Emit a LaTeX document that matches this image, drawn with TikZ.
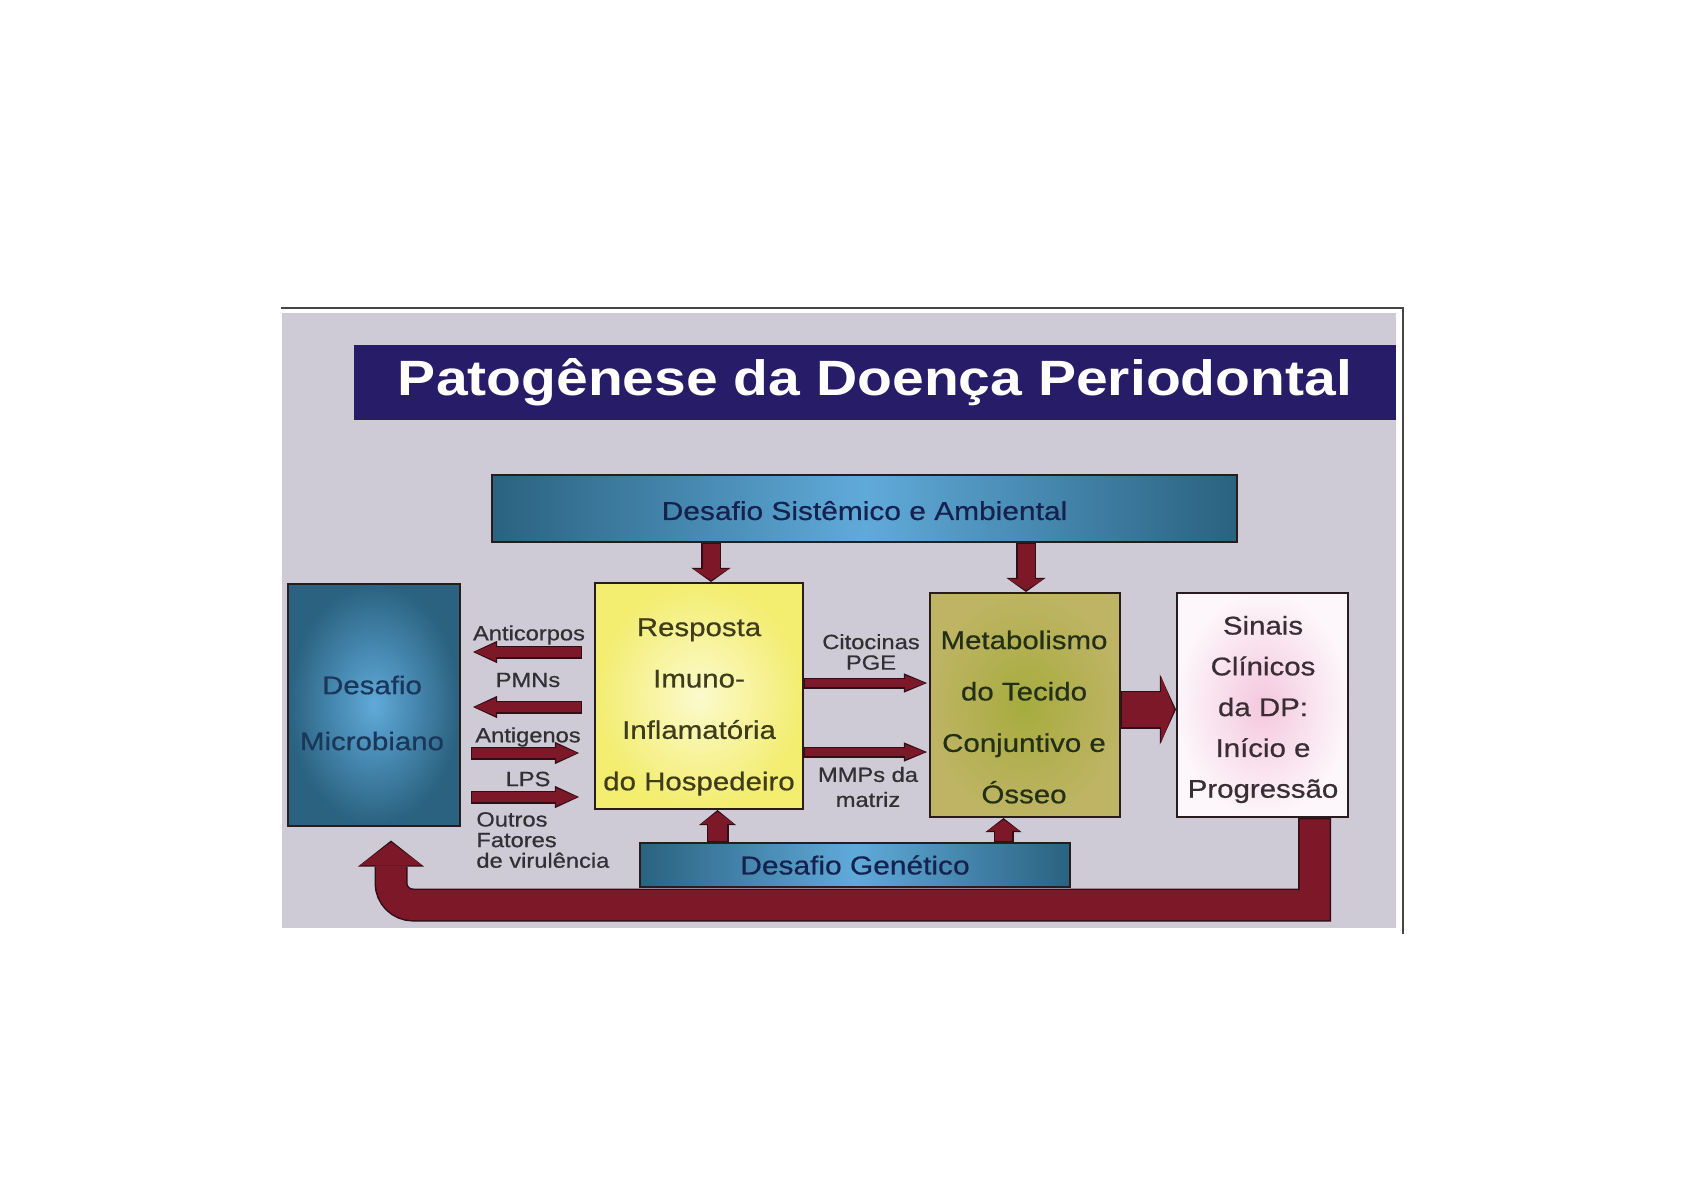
\documentclass[tikz,border=0pt]{standalone}
\usepackage{fontspec}
\setmainfont[FakeStretch=1.15]{Liberation Sans}
\newfontfamily\medfont[FakeStretch=1.15,FakeBold=0.6]{Liberation Sans}
\usetikzlibrary{arrows.meta,calc}

\definecolor{bgc}{RGB}{206,202,214}
\definecolor{framegray}{RGB}{70,70,70}
\definecolor{titlebg}{RGB}{38,28,104}
\definecolor{blueD}{RGB}{42,98,128}
\definecolor{blueL}{RGB}{96,170,218}
\definecolor{yelO}{RGB}{243,237,112}
\definecolor{yelI}{RGB}{252,250,205}
\definecolor{oliO}{RGB}{190,180,100}
\definecolor{oliI}{RGB}{166,172,62}
\definecolor{pnkO}{RGB}{253,246,250}
\definecolor{pnkI}{RGB}{244,200,222}
\definecolor{boxline}{RGB}{40,28,30}
\definecolor{arrred}{RGB}{124,24,40}
\definecolor{arrdark}{RGB}{48,14,22}
\definecolor{navytxt}{RGB}{22,34,78}
\definecolor{mictxt}{RGB}{26,54,88}
\definecolor{yeltxt}{RGB}{62,60,26}
\definecolor{olitxt}{RGB}{36,48,22}
\definecolor{pnktxt}{RGB}{58,46,52}
\definecolor{labtxt}{RGB}{50,48,52}

\newcommand\FatArrow[6]{%
  \pgfmathsetmacro\faLW{#3+1.5}%
  \pgfmathsetmacro\faHW{#4+2.2}%
  \pgfmathsetmacro\faHL{#5+1.6}%
  \pgfmathsetmacro\faSE{#2+0.9}%
  \pgfmathsetmacro\faSS{#1+0.7}%
  \draw[draw=arrdark, line width=\faLW pt, shorten <=#1pt, shorten >=#2pt,
        -{Triangle[width=\faHW pt,length=\faHL pt,line width=0pt]}] #6;
  \draw[draw=arrred, line width=#3pt, shorten <=\faSS pt, shorten >=\faSE pt,
        -{Triangle[width=#4pt,length=#5pt,line width=0pt]}] #6;
}

\tikzset{
  box/.style={draw=boxline, line width=1pt, inner sep=0pt},
  boxtxt/.style={inner sep=0pt, align=center},
  labtext/.style={inner sep=0pt, align=center, text=labtxt,
                  font=\medfont\fontsize{10.3}{10.3}\selectfont},
}

\begin{document}
\begin{tikzpicture}[x=0.5pt,y=-0.5pt]
\useasboundingbox (0,0) rectangle (1684,1190);
\fill[white] (0,0) rectangle (1684,1190);
\fill[bgc] (282,313) rectangle (1396,928);
\draw[framegray, line width=0.7pt] (281,308) -- (1403,308) -- (1403,934);

% title
\node[fill=titlebg, inner sep=0pt, minimum width=521pt, minimum height=37.5pt,
      text=white, font=\fontsize{24.8}{30}\selectfont\bfseries]
      (title) at (875,382.5) {Patogênese da Doença Periodontal};

% boxes
\node[box, minimum width=372.5pt, minimum height=33.5pt,
      left color=blueD, right color=blueD, middle color=blueL,
      text=navytxt, font=\medfont\fontsize{13}{15}\selectfont, text depth=0pt]
      (sis) at (864.5,508.5) {\raisebox{-1pt}[\height][0pt]{Desafio Sistêmico e Ambiental}};
\node[box, minimum width=215pt, minimum height=22pt,
      left color=blueD, right color=blueD, middle color=blueL,
      text=navytxt, font=\medfont\fontsize{13}{15}\selectfont]
      (gen) at (855,865) {Desafio Genético};
\node[box, minimum width=86pt, minimum height=121pt,
      inner color=blueL, outer color=blueD] (mic) at (374,704.5) {};
\node[box, minimum width=104pt, minimum height=113pt,
      inner color=yelI, outer color=yelO] (yel) at (699,696) {};
\node[box, minimum width=95pt, minimum height=112pt,
      inner color=oliI, outer color=oliO] (oli) at (1025,705) {};
\node[box, minimum width=85.5pt, minimum height=112pt,
      inner color=pnkI, outer color=pnkO] (pnk) at (1262.5,705) {};

% box texts
\node[boxtxt, text=mictxt, font=\medfont\fontsize{12.8}{28}\selectfont]
      (micT) at (372,713) {Desafio\\Microbiano};
\node[boxtxt, text=yeltxt, font=\medfont\fontsize{12.8}{25.7}\selectfont]
      (yelT) at (699,707) {Resposta\\Imuno-\\Inflamatória\\do Hospedeiro};
\node[boxtxt, text=olitxt, font=\medfont\fontsize{12.8}{25.7}\selectfont]
      (oliT) at (1024,717) {Metabolismo\\do Tecido\\Conjuntivo e\\Ósseo};
\node[boxtxt, text=pnktxt, font=\medfont\fontsize{12.8}{20.4}\selectfont]
      (pnkT) at (1263,709.5) {Sinais\\Clínicos\\da DP:\\Início e\\Progressão};

% small labels
\node[labtext] (lAnti) at (529,635) {Anticorpos};
\node[labtext] (lPMN) at (528,680) {PMNs};
\node[labtext] (lAntig) at (528,737) {Antigenos};
\node[labtext] (lLPS) at (528,779) {LPS};
\node[labtext, align=left, anchor=west] (lOut) at (476,840) {Outros\\Fatores\\de virulência};
\node[labtext] (lCit) at (871,652) {Citocinas\\PGE};
\node[labtext, font=\medfont\fontsize{10.3}{12.5}\selectfont] (lMMP) at (868,787) {MMPs da\\matriz};

% coordinates for connectors
\coordinate (xa) at (711,0);
\coordinate (xb) at (1026,0);
\coordinate (xc) at (717.5,0);
\coordinate (xd) at (1003.5,0);
\coordinate (ya) at (0,652);
\coordinate (yb) at (0,707);
\coordinate (yc) at (0,753);
\coordinate (yd) at (0,797);
\coordinate (ye) at (0,683);
\coordinate (yf) at (0,752);
\coordinate (yg) at (0,709.5);
\coordinate (fbR) at (1314.5,905);
\coordinate (fbL) at (391,905);

% arrows
\FatArrow{0}{0}{8.5}{17.5}{5.5}{(sis.south -| xa) -- (yel.north -| xa)}
\FatArrow{0}{0}{8.5}{17.5}{5.5}{(sis.south -| xb) -- (oli.north -| xb)}
\FatArrow{0}{0}{9.5}{16.5}{6}{(gen.north -| xc) -- (yel.south -| xc)}
\FatArrow{0}{0}{8.5}{16}{5.5}{(gen.north -| xd) -- (oli.south -| xd)}

\FatArrow{6}{6}{5}{9}{10.5}{(yel.west |- ya) -- (mic.east |- ya)}
\FatArrow{6}{6}{5}{9}{10.5}{(yel.west |- yb) -- (mic.east |- yb)}
\FatArrow{5}{7.5}{5}{9}{10.5}{(mic.east |- yc) -- (yel.west |- yc)}
\FatArrow{5}{7.5}{5}{9}{10.5}{(mic.east |- yd) -- (yel.west |- yd)}

\FatArrow{0}{1}{4}{7.5}{10}{(yel.east |- ye) -- (oli.west |- ye)}
\FatArrow{0}{1}{4}{7.5}{10}{(yel.east |- yf) -- (oli.west |- yf)}

\FatArrow{0}{0}{17.5}{33}{6.5}{(oli.east |- yg) -- (pnk.west |- yg)}

\FatArrow{0}{7}{15}{31}{11.5}{(pnk.south -| fbR) -- (fbR) [rounded corners=11pt] -- (fbL) -- (mic.south -| fbL)}
\end{tikzpicture}
\end{document}
